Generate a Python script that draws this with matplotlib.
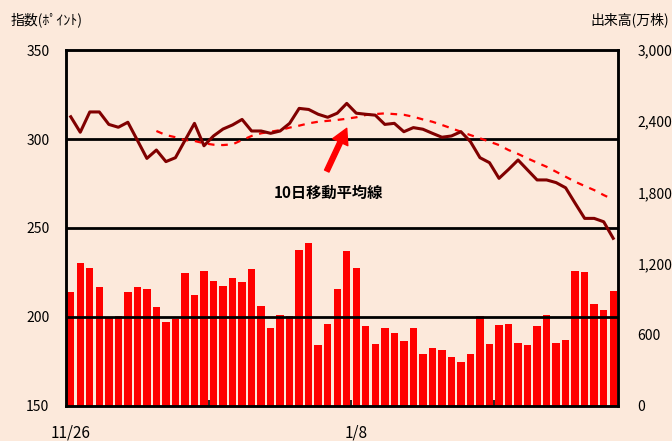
import matplotlib
matplotlib.use('Agg')
import matplotlib.pyplot as plt
import numpy as np

plt.rcParams['font.family'] = ['Noto Sans CJK JP', 'DejaVu Sans']
plt.rcParams['font.size'] = 10

BG = '#FCE9DB'

# 出来高(万株)
volume = [963, 1208, 1166, 1006, 753, 761, 963, 1006, 989, 837,
          711, 730, 1124, 938, 1140, 1056, 1014, 1081, 1048, 1157,
          845, 660, 770, 761, 1317, 1376, 517, 694, 989, 1309,
          1166, 677, 525, 660, 618, 550, 660, 441, 491, 475,
          416, 373, 441, 761, 525, 685, 694, 534, 517, 677,
          770, 534, 559, 1140, 1132, 862, 812, 972]

# 指数(ポイント)
index_pts = [312.5, 303.8, 315.2, 315.2, 308.2, 306.6, 309.4, 299.3, 289.1, 293.8,
             287.3, 289.5, 299.2, 308.8, 296.2, 301.7, 305.6, 307.9, 311.0, 304.5,
             304.5, 303.2, 304.5, 308.8, 317.2, 316.6, 313.9, 312.2, 314.5, 320.0,
             314.5, 313.9, 313.4, 308.2, 308.8, 304.1, 306.4, 305.5, 303.2, 301.0,
             301.7, 304.1, 298.5, 289.5, 286.7, 277.9, 282.9, 288.2, 282.6, 277.0,
             277.0, 275.5, 272.6, 263.9, 255.4, 255.4, 253.5, 244.2]

# 10日移動平均線 (starts at the 10th day)
ma10 = [304.5, 302.2, 301.0, 299.4, 298.9, 297.6, 296.8, 296.6, 297.0, 299.4,
        301.7, 303.2, 304.1, 305.0, 306.4, 307.5, 308.8, 309.7, 310.2, 310.7,
        311.4, 312.2, 313.5, 314.0, 314.4, 314.0, 313.6, 312.5, 311.0, 309.7,
        307.9, 306.0, 304.1, 302.2, 300.4, 298.5, 296.6, 293.8, 291.6, 289.1,
        286.7, 284.4, 281.6, 278.8, 276.0, 273.6, 271.3, 268.5, 266.0]

date_labels = ['11/26', '1/8']
date_pos = [0, 30]

x = np.arange(len(volume))
x_ma = np.arange(len(index_pts) - len(ma10), len(index_pts))

fig = plt.figure(figsize=(6.72, 4.41), dpi=100)
fig.patch.set_facecolor(BG)
ax2 = fig.add_axes([0.0982, 0.0794, 0.8214, 0.8072])
ax = ax2.twinx()
ax2.set_facecolor(BG)
ax.set_zorder(ax2.get_zorder() + 1)
ax.patch.set_visible(False)

# 出来高 bars (right axis)
ax2.bar(x, volume, width=0.78, color='#FF0000', zorder=2)
ax2.set_ylim(0, 3000)
ax2.set_xlim(-0.5, len(volume) - 0.5)
ax2.yaxis.tick_right()
ax2.set_yticks([0, 600, 1200, 1800, 2400, 3000])
ax2.set_yticklabels(['0', '600', '1,200', '1,800', '2,400', '3,000'])
ax2.tick_params(axis='y', length=0, pad=14)

# 指数 lines (left axis)
ax.yaxis.tick_left()
for yv in (200, 250, 300):
    ax.axhline(yv, color='black', lw=2, zorder=1)
ax.plot(x, index_pts, color='#800000', lw=2.2, zorder=4)
ax.plot(x_ma, ma10, color='#FF0000', lw=1.6, ls=(0, (3, 3)), zorder=3)
ax.set_ylim(150, 350)
ax.set_yticks([150, 200, 250, 300, 350])
ax.tick_params(axis='y', length=0, pad=12)

ax2.set_xticks(date_pos)
ax2.set_xticklabels(date_labels, fontsize=11)
ax2.set_xticks([14.5, 29.5, 44.5], minor=True)
ax2.tick_params(axis='x', which='major', length=0, pad=13)
ax2.tick_params(axis='x', which='minor', length=4, direction='in', width=1.2)

for a in (ax, ax2):
    for s in a.spines.values():
        s.set_linewidth(1.8)
        s.set_color('black')

ax.annotate('', xy=(29.0, 306), xytext=(26.9, 282),
            arrowprops=dict(facecolor='#FF0000', edgecolor='#FF0000',
                            width=3.5, headwidth=12, headlength=11))
ax.text(27.1, 270, '10日移動平均線', ha='center', va='center',
        fontsize=11, fontweight='bold')

fig.text(0.015, 0.955, '指数(ﾎﾟｲﾝﾄ)', ha='left', va='center', fontsize=10)
fig.text(0.995, 0.955, '出来高(万株)', ha='right', va='center', fontsize=10)

fig.savefig('out.png', dpi=100, facecolor=BG)
